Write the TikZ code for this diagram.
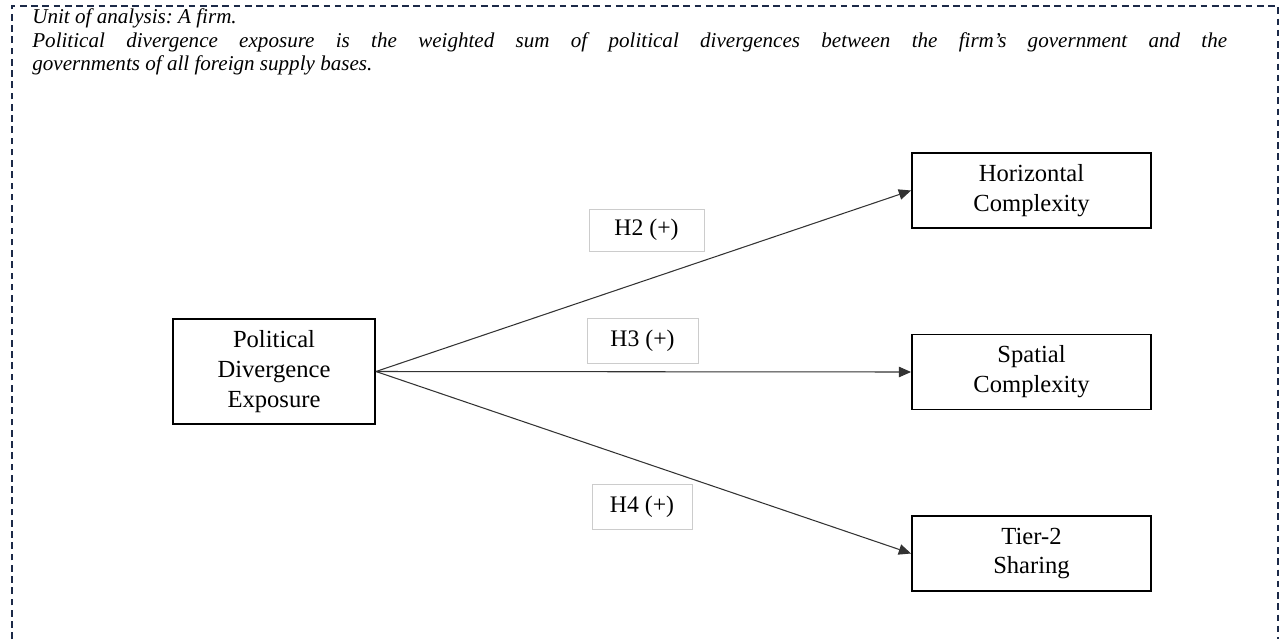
\documentclass[tikz,border=0pt]{standalone}
\usepackage{fontspec}
\setmainfont{Liberation Serif}
\usetikzlibrary{arrows.meta}
\definecolor{framenavy}{HTML}{1C2A48}
\definecolor{linegray}{HTML}{333333}
\definecolor{tagborder}{HTML}{CCCCCC}

\begin{document}
\begin{tikzpicture}[x=0.02cm, y=-0.02cm,
          var/.style={rectangle, draw=black, line width=1.1pt, align=center,
                      font=\fontsize{14}{17}\selectfont, inner sep=0pt},
          outcome/.style={var, minimum width=4.78cm, minimum height=1.5cm},
          tag/.style={rectangle, draw=tagborder, line width=0.5pt,
                      font=\fontsize{13.5}{15}\selectfont, inner sep=0pt},
          arr/.style={-{Triangle[length=7pt,width=6pt]}, linegray, line width=0.6pt}
        ]
        \useasboundingbox (0,0) rectangle (1280,639);
        \draw[framenavy, line width=1.1pt, dash pattern=on 3.8pt off 2.6pt]
          (12,639) -- (12,6) -- (1278,6) -- (1278,639);

        \node[anchor=north west, text width=23.9cm, align=justify, inner sep=0pt,
              font=\itshape\frenchspacing\fontsize{12}{13.6}\selectfont] (note) at (32,8)
          {Unit of analysis: A firm.\par
           Political divergence exposure is the weighted sum of political divergences between the firm's government and the\linebreak
           governments of all foreign supply bases.};

        \node[var, minimum width=4.04cm, minimum height=2.1cm] (pde) at (274,371.5) {Political\\Divergence\\Exposure};
        \node[outcome] (hc) at (1031.5,190.5) {Horizontal\\Complexity};
        \node[outcome] (sc) at (1031.5,372) {Spatial\\Complexity};
        \node[outcome] (ts) at (1031.5,553.5) {Tier-2\\Sharing};

        \draw[arr] (pde.east) -- (hc.west);
        \draw[arr] (pde.east) -- (sc.west);
        \draw[arr] (pde.east) -- (ts.west);

        % hypothesis labels
        \node[tag, minimum width=2.3cm, minimum height=0.84cm] (h2) at (646.5,230) {H2 (+)};
        \node[tag, minimum width=2.22cm, minimum height=0.9cm] (h3) at (642.5,340.5) {H3 (+)};
        \node[tag, minimum width=2.0cm, minimum height=0.9cm] (h4) at (642,506.5) {H4 (+)};
      \end{tikzpicture}
\end{document}
